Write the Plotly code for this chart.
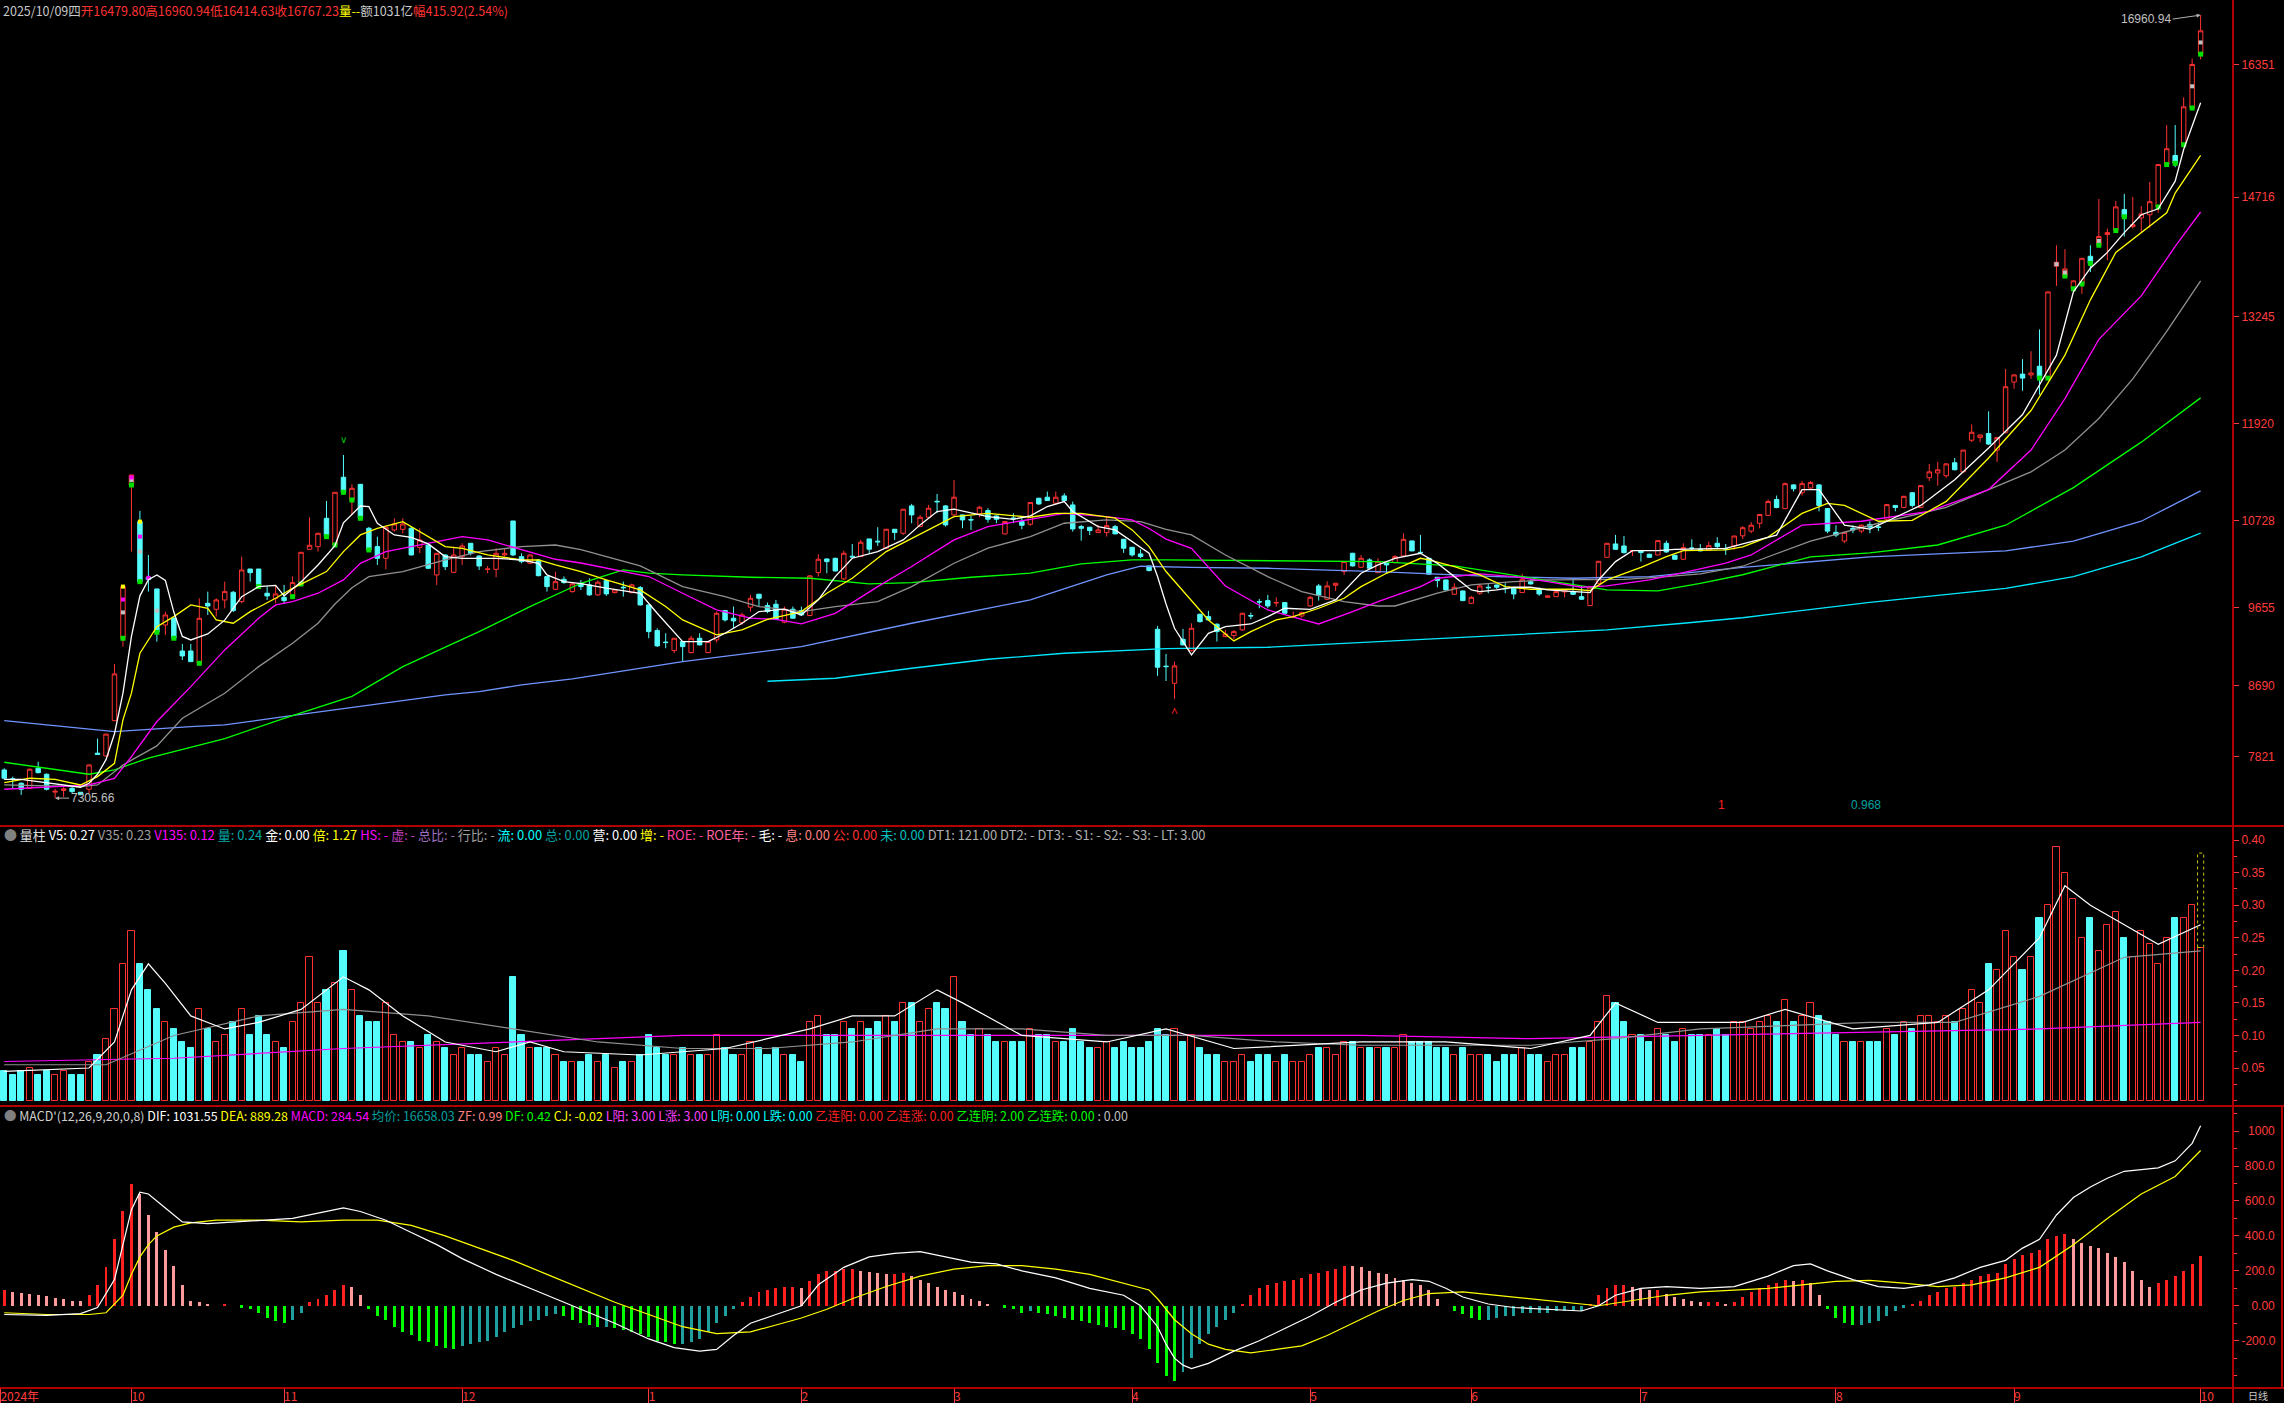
import plotly.graph_objects as go

W, H = 2284, 1403
PLOT_R = 2232  # right edge of plotting area (px)

# ---------------- axis labels ----------------
month_tick_idx = [-0.45, 15, 33, 54, 76, 94, 112, 133, 154, 173, 193, 216, 237, 259]
month_tick_txt = ["2024年", "10", "11", "12", "1", "2", "3", "4", "5", "6", "7", "8", "9", "10"]
price_ticks = [16351, 14716, 13245, 11920, 10728, 9655, 8690, 7821]
vol_ticks = [0.05, 0.10, 0.15, 0.20, 0.25, 0.30, 0.35, 0.40]
macd_ticks = [-200, 0, 200, 400, 600, 800, 1000]
macd_tick_txt = ["-200.0", "0.00", "200.0", "400.0", "600.0", "800.0", "1000"]

# ---------------- daily candles ----------------
opens = [7653,7545,7489,7427,7674,7600,7380,7400,7427,7378,
7415,7860,7826,8261,9277,11167,10715,10030,9885,9441,
9523,9120,9120,8968,9708,9634,9749,9844,9729,10131,
10131,9832,9770,9782,9790,9947,10374,10407,10756,10427,
11262,10982,11175,10633,10407,10263,10612,10620,10633,10398,
10427,10058,10304,10090,10283,10448,10291,10127,10127,10304,
10723,10283,10201,10242,10037,9881,10004,9852,9955,9935,
9812,9988,9840,9906,9840,9902,9688,9372,9230,9125,
9236,9100,9277,9100,9257,9618,9524,9470,9660,9820,
9680,9696,9475,9635,9618,9557,10087,10255,10263,10009,
10288,10284,10502,10474,10387,10621,10572,10909,10654,10769,
10966,10909,10798,10798,10740,10810,10851,10785,10563,10760,
10716,10683,11003,11016,10942,11032,10921,10654,10646,10580,
10580,10654,10498,10399,10317,10169,9388,8933,8722,9264,
9125,9573,9544,9450,9297,9310,9380,9557,9729,9741,
9712,9717,9540,9552,9676,9922,9758,9930,10099,10325,
10152,10243,10086,10201,10210,10292,10477,10337,10263,10029,
9996,9820,9860,9708,9832,9906,9934,9893,9893,9840,
9975,9893,9782,9790,9848,9848,9790,9680,9955,10275,
10440,10415,10357,10354,10313,10304,10448,10300,10251,10390,
10374,10366,10448,10378,10415,10540,10598,10695,10793,10988,
10876,11168,11071,11129,11168,10876,10583,10476,10632,10598,
10681,10650,10744,10915,10890,11071,10890,11256,11315,11280,
11441,11329,11719,11753,11802,11597,11817,12436,12534,12524,
12631,12485,13865,13743,13587,13645,13987,14123,14255,14304,
14562,14352,14460,14499,14596,15118,15230,15362,15815,16479.80]

highs = [7674,7571,7500,7670,7756,7610,7420,7440,7440,7380,
7725,8040,8100,8960,9914,11290,10847,10304,9885,9605,
9540,9207,9207,9770,9852,9770,9975,9860,10283,10131,
10131,9914,9934,9934,10040,10340,10768,10580,10970,11077,
11537,11175,11180,10650,10530,10645,10756,10756,10650,10633,
10430,10330,10310,10407,10448,10450,10300,10168,10386,10386,
10723,10324,10310,10250,10040,10098,10040,9960,9996,10017,
9990,10000,9880,9976,9950,9922,9690,9400,9339,9280,
9240,9306,9339,9240,9606,9620,9668,9594,9811,9825,
9717,9750,9668,9668,9668,10058,10313,10260,10270,10358,
10440,10490,10502,10646,10625,10625,10870,10934,10798,10921,
11057,10920,11229,10800,10785,10909,10880,10790,10720,10818,
10757,10955,11010,11086,11086,11065,10962,10675,10650,10675,
10777,10675,10500,10400,10375,10170,9429,9084,8989,9392,
9462,9580,9614,9460,9380,9380,9590,9593,9762,9811,
9782,9720,9606,9606,9799,9947,9980,9960,10225,10330,
10304,10263,10263,10205,10300,10571,10480,10551,10266,10030,
10000,9955,9865,9800,9947,9947,9940,9955,9900,10070,
10012,9900,9800,9860,9880,10008,9922,9910,10230,10450,
10551,10538,10360,10360,10320,10485,10481,10305,10448,10497,
10440,10468,10522,10440,10540,10660,10710,10810,10988,11037,
11198,11175,11217,11217,11175,10880,10671,10590,10671,10680,
10720,10695,10930,10920,11035,11080,11165,11427,11451,11435,
11500,11600,11914,11790,12075,11760,12597,12530,12719,12816,
13085,13550,14123,14074,13690,13965,14123,14694,14328,14669,
14757,14718,14606,14903,15125,15605,15605,15947,16425,16960.94]

lows = [7530,7427,7345,7420,7610,7400,7305.66,7320,7370,7340,
7365,7840,7820,8255,9174,10345,9960,9852,9235,9318,
9270,9009,8985,8960,9564,9544,9646,9600,9708,9975,
9910,9749,9708,9700,9760,9914,10365,10345,10510,10427,
11050,10797,10740,10340,10181,10127,10592,10570,10300,10325,
10130,9934,10119,10080,10181,10300,10119,10078,10029,10283,
10290,10201,10190,10040,9852,9870,9950,9840,9873,9800,
9800,9800,9830,9791,9830,9680,9277,9170,9154,9092,
8990,9090,9190,9095,9224,9483,9400,9442,9606,9668,
9585,9500,9462,9520,9553,9550,10038,10079,10100,9996,
10276,10280,10325,10416,10380,10490,10551,10695,10650,10757,
10818,10654,10777,10633,10613,10769,10703,10695,10560,10695,
10621,10662,10921,10970,10930,10962,10592,10481,10551,10575,
10531,10560,10330,10284,10264,10100,8813,8750,8529,9190,
9112,9470,9500,9236,9290,9265,9370,9511,9647,9647,
9667,9580,9523,9532,9667,9741,9750,9860,10058,10160,
10150,10130,10080,10078,10200,10290,10350,10325,10060,9906,
9865,9815,9735,9700,9811,9832,9880,9832,9758,9835,
9940,9800,9775,9785,9780,9810,9750,9675,9950,10270,
10370,10320,10292,10222,10270,10300,10330,10245,10245,10358,
10350,10360,10386,10304,10366,10500,10573,10632,10785,10880,
10870,11085,11037,11120,10842,10573,10524,10452,10573,10573,
10573,10598,10720,10842,10880,10890,10880,11217,11159,11256,
11350,11320,11695,11695,11660,11451,11800,12353,12329,12475,
12280,12475,13621,13719,13572,13523,13792,14108,13938,14290,
14230,14330,14289,14338,14523,15108,15084,15350,15810,16414.63]

closes = [7551,7535,7415,7662,7620,7415,7390,7420,7386,7353,
7715,7845,8095,8837,9914,11290,9975,10000,9350,9564,
9277,9059,8989,9523,9675,9749,9852,9618,10119,10086,
9914,9799,9823,9741,9963,10337,10423,10571,10530,11077,
11077,11126,10756,10366,10263,10645,10686,10686,10304,10489,
10140,10324,10160,10304,10415,10324,10168,10130,10324,10324,
10304,10222,10304,10049,9914,9975,9963,9947,9914,9812,
9968,9824,9873,9900,9935,9688,9359,9183,9224,9277,
9174,9277,9195,9236,9585,9503,9491,9565,9770,9770,
9606,9511,9635,9524,9565,10046,10251,10222,10107,10325,
10280,10461,10375,10466,10621,10580,10868,10798,10769,10880,
10960,10675,11016,10736,10736,10892,10744,10744,10716,10752,
10670,10950,10933,10975,11016,10975,10625,10633,10605,10613,
10666,10564,10387,10305,10284,10112,8920,8927,8936,9195,
9400,9482,9503,9359,9330,9359,9585,9552,9724,9676,
9717,9585,9544,9593,9782,9811,9922,9955,10222,10169,
10263,10140,10222,10181,10284,10497,10354,10333,10066,9988,
9873,9906,9741,9782,9922,9900,9906,9889,9823,10004,
9947,9823,9799,9852,9873,9819,9758,9906,10226,10448,
10374,10333,10358,10333,10275,10481,10341,10251,10395,10386,
10354,10419,10407,10374,10538,10640,10671,10803,10964,10890,
11183,11120,11183,11198,10915,10598,10549,10583,10612,10671,
10647,10645,10925,10890,11027,10915,11159,11329,11354,11427,
11354,11597,11817,11783,11671,11753,12378,12524,12485,12548,
12485,13548,13913,13831,13684,13962,13899,14230,14279,14596,
14474,14377,14508,14660,15118,15313,15133,15830,16351.31,16767.23]

# small signal squares drawn inside some candle bodies (bar indices)
sig_green_idx = [14,15,16,18,20,23,30,34,35,38,39,40,41,42,43,240,241,243,244,245,246,247,249,250,254,255,256,257,258,259]
sig_grey_idx = [14,15,16,18,242,243,247,258,259]
sig_yellow_idx = [14,16]
sig_magenta_idx = [14,15,16,17]

# ---------------- price moving averages (read at sample bars) ----------------
ma5_idx = [0,2,4,6,9,10,11,12,13,14,15,16,17,18,19,20,21,22,24,26,28,30,32,33,35,37,39,40,42,43,44,46,48,50,52,54,58,61,63,64,66,68,71,75,77,80,83,85,87,89,92,94,96,98,100,103,106,108,110,112,114,116,119,121,123,125,126,129,131,133,135,136,137,138,140,142,144,147,149,151,154,157,160,162,164,167,169,171,173,174,176,178,180,182,185,187,188,190,192,195,197,201,203,205,209,212,214,217,220,222,226,230,234,238,242,244,246,248,250,252,254,256,257,259]
ma5_val = [7538,7538,7510,7481,7440,7489,7600,7780,8100,8600,9300,9800,10000,10058,9990,9600,9300,9256,9330,9500,9790,9914,9930,9800,9970,10180,10420,10700,10908,10900,10694,10551,10520,10440,10284,10263,10263,10242,10200,10058,9975,9950,9894,9832,9585,9236,9236,9339,9462,9606,9635,9565,9750,10038,10264,10346,10490,10675,10839,10868,10818,10777,10744,10786,10901,10962,10839,10654,10613,10469,10325,10038,9700,9400,9071,9338,9421,9453,9544,9647,9634,9749,10078,10181,10263,10325,10201,10037,9873,9852,9873,9906,9906,9873,9852,9840,9996,10222,10358,10358,10374,10386,10386,10440,10549,11110,11110,10671,10622,10720,10915,11232,11622,12036,12768,13548,13840,14035,14279,14499,14572,14913,15303,15879]

ma10_idx = [0,3,6,9,11,13,14,15,16,18,20,22,24,25,27,29,32,34,38,40,42,44,47,50,52,54,57,61,63,65,68,71,75,78,80,84,87,90,94,97,100,104,107,110,112,116,121,124,127,131,133,135,137,142,145,147,150,152,155,158,160,163,167,168,171,174,177,180,185,187,189,193,196,198,203,205,208,212,215,217,221,225,229,234,239,243,246,249,252,255,256,259]
ma10_val = [7497,7551,7538,7468,7571,7735,8270,8600,9092,9420,9544,9688,9647,9503,9462,9605,9770,9893,10099,10345,10551,10633,10715,10530,10407,10386,10304,10242,10242,10181,10099,9996,9873,9668,9503,9318,9380,9511,9606,9832,10017,10346,10510,10675,10777,10818,10769,10818,10818,10757,10613,10407,10100,9503,9244,9359,9503,9544,9647,9770,9914,10078,10263,10243,10160,10058,9914,9881,9881,9865,9996,10152,10284,10358,10366,10403,10524,10817,10939,10915,10720,10730,10964,11500,12085,12768,13450,14035,14279,14523,14767,15230]

ma20_idx = [0,6,10,13,15,18,22,26,30,32,34,37,40,42,45,48,51,54,57,61,65,68,72,76,80,84,88,91,94,98,103,107,112,116,121,125,130,133,135,137,140,144,149,152,155,159,162,167,169,174,178,182,186,189,194,198,203,206,212,219,227,234,239,243,247,252,256,259]
ma20_val = [7415,7448,7468,7550,7817,8250,8681,9133,9523,9688,9729,9832,9996,10201,10345,10407,10469,10530,10489,10366,10251,10205,10120,10038,9832,9627,9524,9511,9454,9585,9914,10161,10490,10654,10744,10818,10777,10736,10630,10500,10386,9922,9626,9536,9453,9606,9729,9914,10017,10070,10037,9975,9906,9922,9996,10086,10202,10304,10671,10720,10842,11110,11597,12231,12963,13499,14108,14533]

ma30_idx = [0,9,11,14,18,21,26,30,34,37,39,41,43,47,52,56,61,65,68,71,75,80,85,89,94,98,103,107,112,116,121,125,130,134,137,140,144,149,153,158,162,164,169,173,178,182,187,191,196,200,205,213,221,229,239,243,247,251,255,259]
ma30_val = [7468,7448,7468,7715,7950,8290,8598,8927,9215,9462,9700,9900,10037,10099,10242,10345,10407,10427,10370,10284,10169,9914,9791,9668,9606,9668,9729,9914,10202,10387,10531,10695,10736,10716,10620,10551,10304,10037,9852,9729,9675,9675,9832,9934,9975,9996,9996,10004,10037,10070,10165,10476,10695,10890,11329,11597,11987,12475,13060,13684]

ma60_idx = [0,10,13,17,26,33,41,47,56,62,68,73,76,80,88,95,102,107,114,121,127,133,137,149,162,171,180,189,195,200,205,213,220,228,236,244,252,259]
ma60_val = [7748,7600,7653,7800,8040,8290,8560,8927,9359,9667,9955,10120,10079,10058,10029,10017,9947,9964,10029,10079,10194,10243,10243,10234,10222,10169,10017,9873,9860,9955,10060,10281,10330,10427,10671,11134,11695,12241]

ma120_idx = [0,13,22,26,33,43,52,56,61,67,80,94,107,121,130,134,140,149,162,176,185,194,205,220,236,244,252,259]
ma120_val = [8262,8126,8188,8208,8311,8455,8578,8619,8701,8775,8990,9174,9462,9750,10058,10165,10150,10140,10099,10037,10017,10037,10150,10281,10354,10476,10720,11095]

ma250_idx = [90,98,107,116,125,134,137,149,158,171,180,189,198,205,220,236,244,252,259]
ma250_val = [8747,8784,8907,9018,9092,9142,9150,9166,9215,9277,9330,9380,9462,9530,9720,9891,10037,10281,10573]

# ---------------- volume ----------------
volumes = [0.045,0.04,0.045,0.05,0.04,0.045,0.04,0.045,0.04,0.04,
0.06,0.07,0.095,0.14,0.21,0.26,0.21,0.17,0.14,0.12,
0.11,0.09,0.08,0.14,0.11,0.09,0.10,0.12,0.14,0.10,
0.13,0.10,0.09,0.08,0.12,0.15,0.22,0.15,0.17,0.18,
0.23,0.17,0.13,0.12,0.12,0.15,0.10,0.09,0.09,0.08,
0.10,0.09,0.08,0.07,0.08,0.07,0.07,0.06,0.08,0.07,
0.19,0.10,0.08,0.08,0.08,0.07,0.06,0.06,0.06,0.07,
0.06,0.07,0.05,0.06,0.06,0.07,0.10,0.08,0.07,0.07,
0.08,0.07,0.07,0.07,0.10,0.08,0.07,0.07,0.09,0.08,
0.07,0.08,0.07,0.07,0.06,0.12,0.13,0.10,0.10,0.12,
0.11,0.12,0.11,0.12,0.13,0.12,0.15,0.15,0.12,0.14,
0.15,0.14,0.19,0.12,0.10,0.11,0.10,0.09,0.09,0.09,
0.09,0.11,0.10,0.10,0.09,0.09,0.11,0.09,0.08,0.08,
0.09,0.08,0.09,0.08,0.08,0.09,0.11,0.10,0.11,0.09,
0.10,0.08,0.07,0.07,0.06,0.06,0.07,0.06,0.07,0.07,
0.06,0.07,0.06,0.06,0.07,0.08,0.08,0.07,0.09,0.09,
0.08,0.08,0.08,0.08,0.08,0.10,0.09,0.09,0.09,0.08,
0.08,0.07,0.08,0.07,0.07,0.07,0.06,0.07,0.07,0.08,
0.07,0.07,0.06,0.07,0.07,0.08,0.08,0.09,0.12,0.16,
0.15,0.12,0.10,0.10,0.09,0.11,0.10,0.09,0.11,0.10,
0.10,0.10,0.11,0.10,0.12,0.12,0.11,0.12,0.13,0.12,
0.155,0.12,0.13,0.15,0.13,0.12,0.10,0.09,0.09,0.09,
0.09,0.09,0.11,0.10,0.12,0.11,0.13,0.13,0.12,0.13,
0.12,0.14,0.17,0.15,0.21,0.20,0.26,0.22,0.20,0.22,
0.28,0.30,0.39,0.35,0.31,0.25,0.28,0.23,0.27,0.29,
0.25,0.22,0.26,0.24,0.21,0.25,0.28,0.28,0.30,0.235]
last_vol_projected = 0.38

v5_idx = [0,10,13,15,17,19,22,26,30,35,40,43,47,52,58,62,66,75,85,95,100,105,110,113,120,130,137,145,160,170,180,187,190,195,205,210,218,228,234,240,243,246,250,254,259]
v5_val = [0.045,0.05,0.09,0.17,0.21,0.18,0.13,0.11,0.12,0.14,0.19,0.17,0.13,0.09,0.075,0.09,0.075,0.07,0.08,0.11,0.13,0.13,0.17,0.15,0.10,0.09,0.11,0.08,0.09,0.09,0.08,0.10,0.15,0.12,0.12,0.14,0.11,0.12,0.17,0.25,0.33,0.30,0.27,0.24,0.27]
v35_idx = [0,12,20,30,40,50,60,70,80,90,100,110,120,130,140,150,160,170,180,190,200,210,220,230,240,250,259]
v35_val = [0.055,0.055,0.10,0.13,0.14,0.13,0.11,0.09,0.08,0.08,0.09,0.11,0.11,0.10,0.10,0.09,0.085,0.085,0.085,0.095,0.11,0.115,0.12,0.12,0.16,0.22,0.23]
v135_idx = [0,20,40,60,80,100,120,140,160,180,200,220,240,259]
v135_val = [0.06,0.065,0.08,0.09,0.10,0.10,0.10,0.10,0.10,0.095,0.10,0.105,0.11,0.12]

# ---------------- MACD ----------------
macd_hist = [90,80,75,70,60,55,45,40,30,25,
60,120,220,380,540,700,640,520,420,320,
230,120,30,20,10,0,10,0,-10,-20,
-40,-70,-90,-100,-80,-40,20,40,60,90,
120,110,60,-20,-60,-80,-120,-150,-170,-200,
-210,-230,-240,-250,-230,-220,-210,-200,-180,-150,
-130,-110,-90,-80,-60,-50,-60,-80,-100,-110,
-120,-120,-130,-140,-150,-160,-180,-200,-210,-220,
-220,-210,-190,-150,-100,-60,-20,20,50,80,
90,100,110,110,100,140,180,200,200,210,
210,200,195,185,180,180,185,170,150,130,
110,90,80,60,40,30,10,0,-10,-20,
-40,-30,-40,-50,-60,-70,-80,-90,-100,-110,
-120,-130,-140,-160,-190,-250,-330,-400,-430,-380,
-300,-220,-160,-120,-80,-40,10,60,100,120,
130,140,150,160,180,190,200,210,230,225,
220,200,190,180,160,150,130,120,90,40,
0,-30,-50,-70,-80,-80,-70,-60,-60,-40,
-40,-40,-40,-30,-30,-30,-30,10,60,100,
120,120,110,100,90,90,70,50,40,30,
20,20,20,10,20,50,80,100,120,130,
150,140,150,130,60,-20,-70,-100,-110,-110,
-100,-90,-60,-30,-10,10,30,60,80,100,
110,130,150,170,180,190,240,270,290,300,
320,380,400,410,380,360,340,330,300,280,
250,200,150,110,130,150,170,200,240,284.54]

dif_idx = [0,5,9,11,13,14,15,16,17,19,21,24,27,30,34,37,40,42,45,48,51,54,58,62,65,68,72,76,79,82,84,86,88,91,94,96,99,102,105,108,111,114,117,120,124,128,132,134,136,137,138,139,140,142,145,148,151,154,157,160,163,166,168,170,172,175,178,182,186,188,190,193,196,200,204,208,211,213,215,218,221,224,227,230,233,236,238,240,242,244,246,248,250,252,254,256,258,259]
dif_val = [-50,-55,-45,-10,150,350,550,650,640,560,480,470,480,490,500,530,560,540,490,420,350,270,180,100,40,-20,-100,-190,-240,-260,-250,-170,-100,-50,0,120,220,280,300,310,280,250,240,200,160,100,60,0,-120,-220,-300,-340,-360,-330,-260,-200,-130,-60,20,90,130,150,140,100,50,10,-10,-20,-30,0,60,100,110,100,110,170,230,240,200,150,110,100,120,160,220,260,330,380,520,620,680,730,770,780,790,830,930,1031.55]
dea_idx = [0,5,10,12,14,15,16,17,18,20,22,25,30,35,40,44,48,52,56,60,64,68,72,76,80,84,88,91,94,97,100,104,108,112,116,120,124,128,132,135,136,138,140,142,144,147,150,153,156,159,162,165,168,172,176,180,184,188,192,196,200,204,208,212,216,220,224,228,232,236,240,244,248,252,256,259]
dea_val = [-40,-50,-50,-40,60,180,280,350,400,450,475,490,490,480,490,490,460,400,330,260,180,100,20,-50,-120,-160,-150,-110,-70,-20,40,110,170,210,230,230,210,180,130,90,40,-80,-160,-220,-250,-270,-250,-230,-170,-100,-30,30,70,80,60,40,20,0,30,60,80,90,100,120,140,145,130,110,120,160,220,350,500,640,740,889.28]

# ---------------- styling ----------------
BG = "#000000"
UP = "#ff3232"
DN = "#54fcfc"
FRAME = "#b00000"
AXT = "#ff3c3c"
FONT = "Noto Sans CJK SC, Liberation Sans, sans-serif"
NUMFONT = "Liberation Sans, Arial, sans-serif"

def px_x(p):
    return p / W

def px_y(p):
    return 1 - p / H

def rpad(labels):
    """right-align right-side tick labels by padding with no-break spaces"""
    cw = {".": 0.278, "-": 0.333}
    widths = [sum(cw.get(ch, 0.556) for ch in s) for s in labels]
    mw = max(widths)
    return ["\u00a0" * int(round((mw - w) / 0.278)) + s for s, w in zip(labels, widths)]

MAIN_TOP, MAIN_BOT = 0, 826
VOL_TOP, VOL_BOT = 828, 1106
MACD_TOP, MACD_BOT = 1106, 1388

idx = list(range(len(closes)))
x_range = [-0.5, 262.7]

fig = go.Figure()

# candles
fig.add_trace(go.Candlestick(
    x=idx, open=opens, high=highs, low=lows, close=closes,
    increasing=dict(line=dict(color=UP, width=1), fillcolor=BG),
    decreasing=dict(line=dict(color=DN, width=1), fillcolor=DN),
    whiskerwidth=0, xaxis="x", yaxis="y", hoverinfo="skip", showlegend=False))

# signal squares inside bodies
body_lo = [min(o, c) for o, c in zip(opens, closes)]
body_mid = [(o + c) / 2 for o, c in zip(opens, closes)]
body_hi = [max(o, c) for o, c in zip(opens, closes)]
sig_sets = [
    (sig_green_idx, [body_lo[k] for k in sig_green_idx], "#00e000", 5),
    (sig_grey_idx, [body_mid[k] for k in sig_grey_idx], "#c0c0c0", 4),
    (sig_yellow_idx, [body_hi[k] for k in sig_yellow_idx], "#ffff00", 4),
    (sig_magenta_idx, [body_hi[k] - (body_hi[k] - body_lo[k]) * 0.25 for k in sig_magenta_idx], "#ff00ff", 4),
]
for xi, yv, col, sz in sig_sets:
    fig.add_trace(go.Scatter(x=xi, y=yv, mode="markers", marker=dict(symbol="square", size=sz, color=col),
                             xaxis="x", yaxis="y", hoverinfo="skip", showlegend=False))

ma_specs = [
    (ma250_idx, ma250_val, "#00e8ff"),
    (ma120_idx, ma120_val, "#6f94ff"),
    (ma60_idx, ma60_val, "#00ff00"),
    (ma30_idx, ma30_val, "#909090"),
    (ma20_idx, ma20_val, "#ff00ff"),
    (ma10_idx, ma10_val, "#ffff00"),
    (ma5_idx, ma5_val, "#ffffff"),
]
for xi, yv, col in ma_specs:
    fig.add_trace(go.Scatter(x=xi, y=yv, mode="lines", line=dict(color=col, width=1.3),
                             xaxis="x", yaxis="y", hoverinfo="skip", showlegend=False))

# volume bars
up_flags = [c >= o for o, c in zip(opens, closes)]
vol_fill = [BG if u else DN for u in up_flags]
vol_line = [UP if u else DN for u in up_flags]
fig.add_trace(go.Bar(x=idx, y=volumes, width=0.72, marker=dict(color=vol_fill, line=dict(color=vol_line, width=1)),
                     xaxis="x2", yaxis="y2", hoverinfo="skip", showlegend=False))
for xi, yv, col in [(v135_idx, v135_val, "#ff00ff"), (v35_idx, v35_val, "#909090"), (v5_idx, v5_val, "#ffffff")]:
    fig.add_trace(go.Scatter(x=xi, y=yv, mode="lines", line=dict(color=col, width=1.2),
                             xaxis="x2", yaxis="y2", hoverinfo="skip", showlegend=False))

# MACD histogram colours
hist_cols = []
for k, v in enumerate(macd_hist):
    prev = macd_hist[k - 1] if k > 0 else v
    if v >= 0:
        hist_cols.append("#ff2020" if v >= prev else "#ff9a9a")
    else:
        hist_cols.append("#00ff00" if v < prev else "#1fa0a0")
fig.add_trace(go.Bar(x=idx, y=macd_hist, width=0.35, marker=dict(color=hist_cols, line=dict(width=0)),
                     xaxis="x3", yaxis="y3", hoverinfo="skip", showlegend=False))
fig.add_trace(go.Scatter(x=dea_idx, y=dea_val, mode="lines", line=dict(color="#ffff00", width=1.2),
                         xaxis="x3", yaxis="y3", hoverinfo="skip", showlegend=False))
fig.add_trace(go.Scatter(x=dif_idx, y=dif_val, mode="lines", line=dict(color="#ffffff", width=1.2),
                         xaxis="x3", yaxis="y3", hoverinfo="skip", showlegend=False))

# ---------------- axes ----------------
xdom = [0, PLOT_R / W]
common_x = dict(range=x_range, showgrid=False, zeroline=False, showline=False, domain=xdom,
                fixedrange=True, automargin=False)
ycommon = dict(side="right", showgrid=False, zeroline=False, showline=False, ticks="outside", ticklen=6,
               tickcolor=AXT, tickfont=dict(color=AXT, size=12, family=NUMFONT),
               fixedrange=True, automargin=False)

fig.update_layout(
    template="none",
    width=W, height=H, paper_bgcolor=BG, plot_bgcolor=BG,
    margin=dict(l=0, r=0, t=0, b=0, pad=0), showlegend=False, bargap=0, boxgap=0.25,
    xaxis=dict(**common_x, anchor="y", showticklabels=False, ticks="", rangeslider=dict(visible=False)),
    xaxis2=dict(**common_x, anchor="y2", showticklabels=False, ticks="", matches="x"),
    xaxis3=dict(**common_x, anchor="y3", matches="x", tickmode="array", tickvals=month_tick_idx,
                ticktext=month_tick_txt, ticks="", ticklabelposition="outside right",
                tickfont=dict(color=AXT, size=12, family=FONT),
                minor=dict(tickmode="array", tickvals=month_tick_idx, ticks="outside", ticklen=14,
                           tickcolor=AXT, tickwidth=1)),
    yaxis=dict(**ycommon, domain=[px_y(MAIN_BOT), px_y(MAIN_TOP)], range=[6962, 17147], anchor="x",
               tickmode="array", tickvals=price_ticks, ticktext=rpad([str(t) for t in price_ticks])),
    yaxis2=dict(**ycommon, domain=[px_y(VOL_BOT), px_y(VOL_TOP)], range=[-0.0083, 0.4185], anchor="x2",
                tickmode="array", tickvals=vol_ticks, ticktext=rpad(["%.2f" % t for t in vol_ticks]),
                minor=dict(dtick=0.025, tick0=0, ticks="outside", ticklen=4, tickcolor=AXT)),
    yaxis3=dict(**ycommon, domain=[px_y(MACD_BOT), px_y(MACD_TOP)], range=[-471, 1144], anchor="x3",
                tickmode="array", tickvals=macd_ticks, ticktext=rpad(macd_tick_txt),
                minor=dict(dtick=100, tick0=0, ticks="outside", ticklen=4, tickcolor=AXT)),
)

# ---------------- frame lines ----------------
shapes = []
def hline(py, x0=0, x1=W, col=FRAME, w=2):
    shapes.append(dict(type="line", xref="paper", yref="paper", x0=px_x(x0), x1=px_x(x1), y0=px_y(py), y1=px_y(py),
                       line=dict(color=col, width=w)))
def vline(px, y0=0, y1=H, col=FRAME, w=2):
    shapes.append(dict(type="line", xref="paper", yref="paper", x0=px_x(px), x1=px_x(px), y0=px_y(y0), y1=px_y(y1),
                       line=dict(color=col, width=w)))
hline(MAIN_BOT)
hline(MACD_TOP)
hline(MACD_BOT)
vline(PLOT_R + 1)
vline(W - 2, MACD_TOP, MACD_BOT)
# projected volume of the last bar (dotted outline)
shapes.append(dict(type="rect", xref="x2", yref="y2", x0=idx[-1] - 0.36, x1=idx[-1] + 0.36,
                   y0=volumes[-1], y1=last_vol_projected, line=dict(color="#c8c800", width=1, dash="dot")))
fig.update_layout(shapes=shapes)

# ---------------- texts ----------------
def span(txt, col):
    return '<span style="color:%s">%s</span>' % (col, txt)

header_main = (span("2025/10/09四", "#c8c8c8") + span("开16479.80", UP) + span("高16960.94", UP)
               + span("低16414.63", UP) + span("收16767.23", UP) + span("量--", "#ffff00")
               + span("额1031亿", "#c8c8c8") + span("幅415.92(2.54%)", UP))

header_vol = " ".join([
    span("●", "#808080"), span("量柱", "#e0e0e0"), span("V5: 0.27", "#ffffff"), span("V35: 0.23", "#a0a0a0"),
    span("V135: 0.12", "#ff00ff"), span("量: 0.24", "#00a8a8"), span("金: 0.00", "#ffffff"),
    span("倍: 1.27", "#ffff00"), span("HS: -", "#ff00ff"), span("虚: -", "#c040c0"), span("总比: -", "#a070c0"),
    span("行比: -", "#a0a0a0"), span("流: 0.00", "#00ffff"), span("总: 0.00", "#00a0a0"),
    span("营: 0.00", "#ffffff"), span("增: -", "#ffff00"), span("ROE: -", "#ff40a0"), span("ROE年: -", "#ff60a0"),
    span("毛: -", "#ffffff"), span("息: 0.00", "#ff8080"), span("公: 0.00", "#ff3030"), span("未: 0.00", "#00c0c0"),
    span("DT1: 121.00 DT2: - DT3: - S1: - S2: - S3: - LT: 3.00", "#b0b0b0")])

header_macd = " ".join([
    span("●", "#808080"), span("MACD'(12,26,9,20,0,8)", "#d0d0d0"), span("DIF: 1031.55", "#ffffff"),
    span("DEA: 889.28", "#ffff00"), span("MACD: 284.54", "#ff00ff"), span("均价: 16658.03", "#00a0a0"),
    span("ZF: 0.99", "#ff8080"), span("DF: 0.42", "#00ff00"), span("CJ: -0.02", "#ffff00"),
    span("L阳: 3.00", "#ff40ff"), span("L涨: 3.00", "#ff40ff"), span("L阴: 0.00", "#00ffff"),
    span("L跌: 0.00", "#00ffff"), span("乙连阳: 0.00", "#ff2020"), span("乙连涨: 0.00", "#ff2020"),
    span("乙连阴: 2.00", "#00ff00"), span("乙连跌: 0.00", "#00ff00"), span(": 0.00", "#c0c0c0")])

ann = [
    dict(xref="paper", yref="paper", x=px_x(2), y=px_y(0), xanchor="left", yanchor="top",
         text=header_main, showarrow=False, font=dict(size=12.5, family=FONT), borderpad=0),
    dict(xref="paper", yref="paper", x=px_x(2), y=px_y(835), xanchor="left", yanchor="middle",
         text=header_vol, showarrow=False, font=dict(size=12.95, family=FONT)),
    dict(xref="paper", yref="paper", x=px_x(2), y=px_y(1116), xanchor="left", yanchor="middle",
         text=header_macd, showarrow=False, font=dict(size=12.45, family=FONT)),
    dict(xref="paper", yref="paper", x=px_x(2258), y=px_y(1395), xanchor="center", yanchor="middle",
         text="日线", showarrow=False, font=dict(size=10, color="#c8c8c8", family=FONT), borderpad=0),
    # max / min price labels
    dict(xref="x", yref="y", x=idx[-1], y=max(highs), ax=-28, ay=4, xanchor="right", yanchor="middle",
         text="%.2f" % max(highs), showarrow=True, arrowcolor="#b0b0b0", arrowwidth=1, arrowhead=2, arrowsize=0.8,
         font=dict(size=12, color="#c0c0c0", family=NUMFONT)),
    dict(xref="x", yref="y", x=lows.index(min(lows)), y=min(lows), ax=14, ay=0, xanchor="left", yanchor="middle",
         text="%.2f" % min(lows), showarrow=True, arrowcolor="#b0b0b0", arrowwidth=1, arrowhead=2, arrowsize=0.8,
         font=dict(size=12, color="#c0c0c0", family=NUMFONT)),
    # signal marks
    dict(xref="x", yref="y", x=40, y=highs[40], yshift=16, text="∨", showarrow=False,
         font=dict(size=10, color="#00c000")),
    dict(xref="x", yref="y", x=138, y=lows[138], yshift=-14, text="^", showarrow=False,
         font=dict(size=12, color="#ff2020")),
    dict(xref="paper", yref="paper", x=px_x(1727), y=px_y(805), text="1", showarrow=False,
         font=dict(size=12, color="#ff2020", family=NUMFONT)),
    dict(xref="paper", yref="paper", x=px_x(1883), y=px_y(805), text="0.968", showarrow=False,
         font=dict(size=12, color="#00a0a0", family=NUMFONT)),
]
fig.update_layout(annotations=ann)

fig.write_html("out.html",
               config={"displayModeBar": False, "staticPlot": False},
               post_script="document.body.style.margin='0px';document.body.style.background='#000';"
                           "document.body.style.overflow='hidden';")
